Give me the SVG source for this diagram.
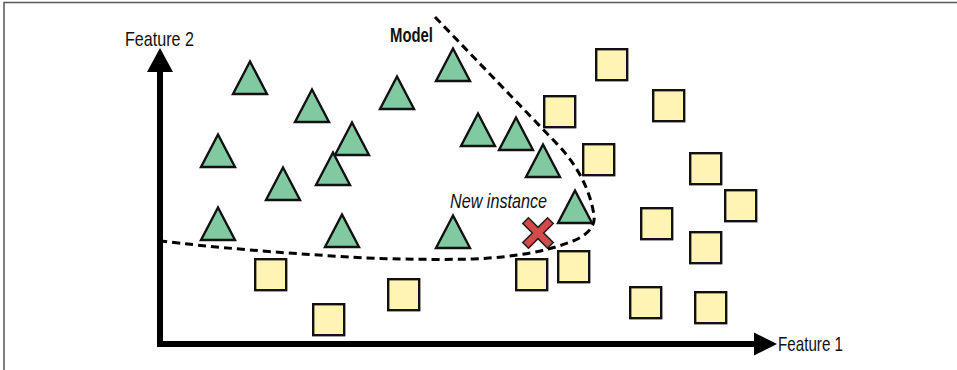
<svg xmlns="http://www.w3.org/2000/svg" xmlns:xlink="http://www.w3.org/1999/xlink" width="957" height="370" viewBox="0 0 957 370">
  <style>
    .tri { fill: #80c9a1; stroke: #111; stroke-width: 2.4; stroke-linejoin: miter; }
    .sq { fill: #fff4b3; stroke: #111; stroke-width: 2.4; }
    .lbl { font-family: "Liberation Sans", Arial, sans-serif; font-size: 21px; fill: #111; }
    .axis { fill: none; stroke: #000; stroke-width: 6; stroke-linejoin: miter; }
    .head { fill: #000; }
    .model { fill: none; stroke: #000; stroke-width: 3; stroke-dasharray: 8 5; }
    .cross { fill: #d24a4a; stroke: #222; stroke-width: 1.6; stroke-linejoin: miter; }
  </style>
  <defs>
    <path id="tri" d="M0,0 L17,32.5 L-17,32.5 Z"/>
    <rect id="sq" x="0" y="0" width="31" height="31"/>
  </defs>
  <rect x="0" y="0" width="957" height="370" fill="#fff"/>
  <path d="M4,370 V2.5 H957" fill="none" stroke="#555" stroke-width="1.5"/>

  <g id="axes">
    <path class="axis" d="M160,71 V344 H755"/>
    <polygon class="head" points="160,48 147,72 173,72"/>
    <polygon class="head" points="777,344 754,332.5 754,355.5"/>
  </g>

  <g id="triangles">
    <g id="t4"><use xlink:href="#tri" class="tri" x="453" y="48.5"/></g>
    <g id="t1"><use xlink:href="#tri" class="tri" x="250" y="61.5"/></g>
    <g id="t3"><use xlink:href="#tri" class="tri" x="397" y="76.5"/></g>
    <g id="t2"><use xlink:href="#tri" class="tri" x="312" y="89.5"/></g>
    <g id="t12"><use xlink:href="#tri" class="tri" x="478" y="113.5"/></g>
    <g id="t13"><use xlink:href="#tri" class="tri" x="516" y="117.5"/></g>
    <g id="t6"><use xlink:href="#tri" class="tri" x="352" y="122.5"/></g>
    <g id="t5"><use xlink:href="#tri" class="tri" x="218" y="134.5"/></g>
    <g id="t14"><use xlink:href="#tri" class="tri" x="543" y="144.5"/></g>
    <g id="t7"><use xlink:href="#tri" class="tri" x="333" y="152.5"/></g>
    <g id="t8"><use xlink:href="#tri" class="tri" x="283" y="167.5"/></g>
    <g id="t15"><use xlink:href="#tri" class="tri" x="575" y="190.5"/></g>
    <g id="t9"><use xlink:href="#tri" class="tri" x="218" y="207.5"/></g>
    <g id="t10"><use xlink:href="#tri" class="tri" x="342" y="214.5"/></g>
    <g id="t11"><use xlink:href="#tri" class="tri" x="453" y="215.5"/></g>
  </g>

  <g id="squares">
    <g id="s1"><use xlink:href="#sq" class="sq" x="596.2" y="49.2"/></g>
    <g id="s2"><use xlink:href="#sq" class="sq" x="653.2" y="90.2"/></g>
    <g id="s3"><use xlink:href="#sq" class="sq" x="544.2" y="96.2"/></g>
    <g id="s4"><use xlink:href="#sq" class="sq" x="583.2" y="144.2"/></g>
    <g id="s5"><use xlink:href="#sq" class="sq" x="690.2" y="153.2"/></g>
    <g id="s6"><use xlink:href="#sq" class="sq" x="725.2" y="190.2"/></g>
    <g id="s7"><use xlink:href="#sq" class="sq" x="641.2" y="208.2"/></g>
    <g id="s8"><use xlink:href="#sq" class="sq" x="690.2" y="232.2"/></g>
    <g id="s9"><use xlink:href="#sq" class="sq" x="516.2" y="259.2"/></g>
    <g id="s10"><use xlink:href="#sq" class="sq" x="558.2" y="251.2"/></g>
    <g id="s11"><use xlink:href="#sq" class="sq" x="630.2" y="287.2"/></g>
    <g id="s12"><use xlink:href="#sq" class="sq" x="695.2" y="292.2"/></g>
    <g id="s13"><use xlink:href="#sq" class="sq" x="255.2" y="259.2"/></g>
    <g id="s14"><use xlink:href="#sq" class="sq" x="313.2" y="304.2"/></g>
    <g id="s15"><use xlink:href="#sq" class="sq" x="388.2" y="279.2"/></g>
  </g>

  <g id="connectors">
    <path id="model-boundary" class="model" d="M435,17 L560,147 C578,167 590,190 594,215 C596,228 585,236 573,241 C545,252 515,257 473,259 C430,260 380,259 350,257 C280,253 210,247 161,241"/>
  </g>

  <g id="new-instance">
    <polygon class="cross" transform="translate(538,233) rotate(45)" points="4,-17.5 4,-4 17.5,-4 17.5,4 4,4 4,17.5 -4,17.5 -4,4 -17.5,4 -17.5,-4 -4,-4 -4,-17.5"/>
  </g>

  <g id="labels">
    <text class="lbl" x="125" y="46" textLength="69" lengthAdjust="spacingAndGlyphs">Feature 2</text>
    <text class="lbl" x="390" y="42" font-weight="bold" textLength="43" lengthAdjust="spacingAndGlyphs">Model</text>
    <text class="lbl" x="450" y="208" font-style="italic" textLength="97" lengthAdjust="spacingAndGlyphs">New instance</text>
    <text class="lbl" x="778" y="351" textLength="65" lengthAdjust="spacingAndGlyphs">Feature 1</text>
  </g>
</svg>
